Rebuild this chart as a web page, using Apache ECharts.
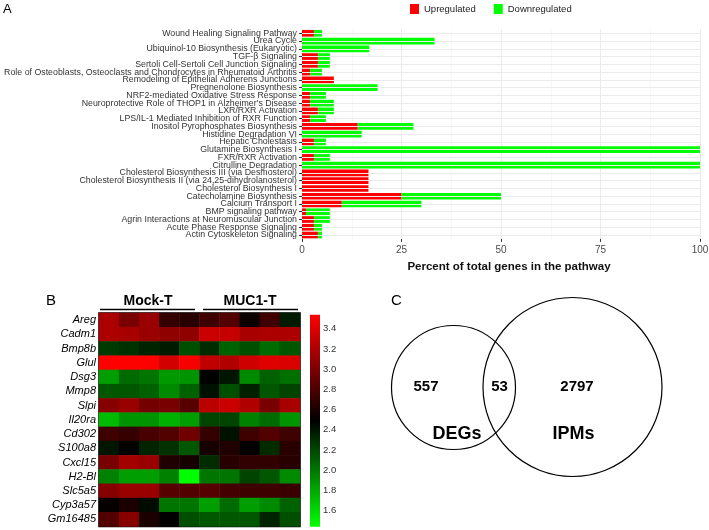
<!DOCTYPE html>
<html>
<head>
<meta charset="utf-8">
<script src="https://cdn.jsdelivr.net/npm/echarts@6/dist/echarts.min.js"></script>
<style>
html,body{margin:0;padding:0;background:#fff;}
#chart{width:709px;height:530px;}
</style>
</head>
<body>
<div id="chart"></div>
<script>
// ---------- Panel A data ----------
const pathways = [
  'Wound Healing Signaling Pathway',
  'Urea Cycle',
  'Ubiquinol-10 Biosynthesis (Eukaryotic)',
  'TGF-β Signaling',
  'Sertoli Cell-Sertoli Cell Junction Signaling',
  'Role of Osteoblasts, Osteoclasts and Chondrocytes in Rheumatoid Arthritis',
  'Remodeling of Epithelial Adherens Junctions',
  'Pregnenolone Biosynthesis',
  'NRF2-mediated Oxidative Stress Response',
  "Neuroprotective Role of THOP1 in Alzheimer's Disease",
  'LXR/RXR Activation',
  'LPS/IL-1 Mediated Inhibition of RXR Function',
  'Inositol Pyrophosphates Biosynthesis',
  'Histidine Degradation VI',
  'Hepatic Cholestasis',
  'Glutamine Biosynthesis I',
  'FXR/RXR Activation',
  'Citrulline Degradation',
  'Cholesterol Biosynthesis III (via Desmosterol)',
  'Cholesterol Biosynthesis II (via 24,25-dihydrolanosterol)',
  'Cholesterol Biosynthesis I',
  'Catecholamine Biosynthesis',
  'Calcium Transport I',
  'BMP signaling pathway',
  'Agrin Interactions at Neuromuscular Junction',
  'Acute Phase Response Signaling',
  'Actin Cytoskeleton Signaling'
];
const upregulated   = [3, 0, 0, 4, 4, 2, 8, 0, 2, 2, 4, 2, 14, 0, 3, 0, 3, 0, 16.7, 16.7, 16.7, 25, 10, 1, 3, 3, 4];
const downregulated = [2, 33.3, 16.9, 3, 3, 3, 0, 19, 4, 6, 4, 4, 14, 15, 3, 100, 4, 100, 0, 0, 0, 25, 20, 6, 4, 2, 1];
const percentTicks = [0, 25, 50, 75, 100];
const seriesNames = ['Upregulated', 'Downregulated'];

// ---------- Panel B data ----------
const genes = ['Areg','Cadm1','Bmp8b','Glul','Dsg3','Mmp8','Slpi','Il20ra','Cd302','S100a8','Cxcl15','H2-Bl','Slc5a5','Cyp3a57','Gm16485'];
const samples = ['Mock-T 1','Mock-T 2','Mock-T 3','Mock-T 4','Mock-T 5','MUC1-T 1','MUC1-T 2','MUC1-T 3','MUC1-T 4','MUC1-T 5'];
const sampleGroups = ['Mock-T', 'MUC1-T'];
const expression = [
  [3.20, 2.99, 3.12, 2.71, 2.66, 2.75, 2.83, 2.54, 2.75, 2.38], // Areg
  [3.20, 3.18, 3.12, 3.08, 3.08, 3.32, 3.30, 3.18, 3.20, 3.20], // Cadm1
  [2.25, 2.29, 2.34, 2.38, 2.17, 2.31, 2.09, 2.17, 2.05, 2.13], // Bmp8b
  [3.54, 3.53, 3.53, 3.36, 3.51, 3.28, 3.22, 3.34, 3.41, 3.39], // Glul
  [1.84, 2.05, 2.01, 1.86, 1.88, 2.48, 2.40, 1.92, 2.09, 2.03], // Dsg3
  [2.13, 2.13, 2.09, 1.92, 2.09, 2.42, 2.17, 2.36, 2.13, 2.21], // Mmp8
  [3.04, 3.12, 2.97, 2.99, 2.85, 3.26, 3.32, 3.22, 2.99, 3.18], // Slpi
  [1.72, 1.88, 1.88, 1.76, 1.84, 2.21, 2.21, 1.96, 2.05, 1.88], // Il20ra
  [2.75, 2.71, 2.79, 2.83, 2.95, 2.71, 2.42, 2.75, 2.83, 2.75], // Cd302
  [2.40, 2.48, 2.34, 2.29, 2.13, 2.58, 2.62, 2.50, 2.31, 2.66], // S100a8
  [2.99, 3.16, 3.12, 2.62, 2.58, 2.31, 2.66, 2.69, 2.69, 2.66], // Cxcl15
  [1.96, 1.84, 1.84, 1.96, 1.45, 2.01, 2.01, 2.21, 2.13, 1.92], // H2-Bl
  [3.04, 3.12, 3.12, 2.85, 2.83, 2.85, 2.77, 2.75, 2.75, 2.73], // Slc5a5
  [2.52, 2.60, 2.44, 2.01, 2.01, 1.84, 2.05, 1.84, 1.92, 2.09], // Cyp3a57
  [2.83, 3.04, 2.60, 2.50, 2.17, 2.13, 2.13, 2.13, 2.34, 2.17]  // Gm16485
];
const colorRange = [1.44, 3.54];
const colorbarTicks = [1.6, 1.8, 2.0, 2.2, 2.4, 2.6, 2.8, 3.0, 3.2, 3.4];

// ---------- Panel C data ----------
const vennSets = ['DEGs', 'IPMs'];
const vennCounts = [557, 53, 2797]; // DEGs only, overlap, IPMs only

// ---------- build ----------
const FONT = 'Liberation Sans, Arial, sans-serif';
const RED = '#ff0000', GREEN = '#00ff00';

const heatData = [];
expression.forEach((row, gi) => row.forEach((v, si) => heatData.push([si, gi, v])));

// Venn layout (in panel-C grid units)
const vennLayout = {
  circles: [{cx: 123.5, cy: 107.5, r: 62}, {cx: 242.5, cy: 107, r: 89.5}],
  countPos: [[96, 107], [169.5, 107], [247, 107]],
  namePos: [[127, 154], [243.5, 154]]
};

const chart = echarts.init(document.getElementById('chart'), null, {renderer: 'canvas'});

const option = {
  animation: false,
  backgroundColor: '#fff',
  textStyle: {fontFamily: FONT},
  legend: {
    data: seriesNames,
    left: 410, top: 4, padding: 0,
    itemWidth: 9, itemHeight: 10, itemGap: 18,
    icon: 'rect',
    textStyle: {fontSize: 9.5, color: '#222', fontFamily: FONT}
  },
  grid: [
    {left: 302, right: 9, top: 29.4, height: 209.5, outerBoundsMode: 'none', containLabel: false},
    {left: 99, top: 313, width: 201, height: 213.5, show: true, borderColor: '#000', borderWidth: 1.5, backgroundColor: 'transparent', outerBoundsMode: 'none', containLabel: false},
    {left: 310, top: 314.7, width: 10, height: 212, outerBoundsMode: 'none', containLabel: false},
    {left: 330, top: 280, width: 379, height: 250, outerBoundsMode: 'none', containLabel: false}
  ],
  xAxis: [
    {
      gridIndex: 0, type: 'value', min: 0, max: 100, interval: 25,
      axisLine: {show: false},
      axisTick: {show: true, length: 3, lineStyle: {color: '#333'}},
      axisLabel: {fontSize: 10, color: '#4d4d4d', margin: 6, customValues: percentTicks},
      splitLine: {show: true, lineStyle: {color: '#ebebeb', width: 1}},
      minorTick: {show: false, splitNumber: 2},
      minorSplitLine: {show: true, lineStyle: {color: '#f2f2f2', width: 0.6}},
      name: 'Percent of total genes in the pathway',
      nameLocation: 'middle', nameGap: 22,
      nameTextStyle: {fontSize: 11.5, fontWeight: 'bold', color: '#111', padding: [0, 0, 0, 16]}
    },
    {gridIndex: 1, type: 'category', data: samples, show: false},
    {gridIndex: 2, type: 'value', min: 0, max: 1, show: false},
    {gridIndex: 3, type: 'value', min: 0, max: 379, show: false}
  ],
  yAxis: [
    {
      gridIndex: 0, type: 'category', data: pathways, inverse: true,
      axisLine: {show: false},
      axisTick: {show: true, length: 3, alignWithLabel: true, lineStyle: {color: '#333'}},
      axisLabel: {fontSize: 8.8, color: '#333', margin: 5, interval: 0},
      splitLine: {show: false}
    },
    {
      gridIndex: 1, type: 'category', data: genes, inverse: true,
      axisLine: {show: false}, axisTick: {show: false},
      axisLabel: {fontSize: 11, fontStyle: 'italic', color: '#000', margin: 3, interval: 0}
    },
    {
      gridIndex: 2, type: 'value', min: colorRange[0], max: colorRange[1], position: 'right',
      axisLine: {show: false},
      axisTick: {show: true, length: 2, customValues: colorbarTicks, lineStyle: {color: '#333'}},
      axisLabel: {customValues: colorbarTicks, formatter: v => v.toFixed(1), fontSize: 9.5, color: '#333', margin: 3},
      splitLine: {show: false}
    },
    {gridIndex: 3, type: 'value', min: 0, max: 250, inverse: true, show: false}
  ],
  visualMap: {
    type: 'continuous', show: false, seriesIndex: 3, dimension: 2,
    min: colorRange[0], max: colorRange[1],
    inRange: {color: [GREEN, '#000000', RED]}
  },
  series: [
    {
      name: seriesNames[0], type: 'bar', stack: 'pct', xAxisIndex: 0, yAxisIndex: 0,
      data: upregulated, itemStyle: {color: RED}, barCategoryGap: '14%', z: 3
    },
    {
      name: seriesNames[1], type: 'bar', stack: 'pct', xAxisIndex: 0, yAxisIndex: 0,
      data: downregulated, itemStyle: {color: GREEN}, barCategoryGap: '14%', z: 3
    },
    {
      type: 'line', xAxisIndex: 0, yAxisIndex: 0, data: [], z: 1, silent: true,
      markLine: {
        silent: true, symbol: 'none', label: {show: false},
        lineStyle: {color: '#ebebeb', width: 1, type: 'solid'},
        data: pathways.map(p => ({yAxis: p}))
      }
    },
    {
      type: 'heatmap', xAxisIndex: 1, yAxisIndex: 1, data: heatData,
      itemStyle: {borderWidth: 0}, emphasis: {disabled: true}
    },
    {
      type: 'custom', xAxisIndex: 2, yAxisIndex: 2, silent: true,
      data: [[0, 1, colorRange[0], colorRange[1]]],
      renderItem: (params, api) => {
        const p1 = api.coord([api.value(0), api.value(3)]);
        const p2 = api.coord([api.value(1), api.value(2)]);
        return {
          type: 'rect',
          shape: {x: p1[0], y: p1[1], width: p2[0] - p1[0], height: p2[1] - p1[1]},
          style: {
            fill: {type: 'linear', x: 0, y: 0, x2: 0, y2: 1,
              colorStops: [{offset: 0, color: RED}, {offset: 0.5, color: '#000'}, {offset: 1, color: GREEN}]}
          }
        };
      }
    },
    {
      type: 'custom', xAxisIndex: 3, yAxisIndex: 3, silent: true,
      data: vennSets.map((s, i) => [i]),
      renderItem: (params, api) => {
        const c = vennLayout.circles[api.value(0)];
        const p = api.coord([c.cx, c.cy]);
        const r = api.size([c.r, 0])[0];
        return {type: 'circle', shape: {cx: p[0], cy: p[1], r: r},
          style: {fill: 'none', stroke: '#000', lineWidth: 1.2}};
      }
    },
    {
      type: 'custom', xAxisIndex: 3, yAxisIndex: 3, silent: true,
      data: vennCounts.map((c, i) => [i]),
      renderItem: (params, api) => {
        const i = api.value(0);
        const p = api.coord(vennLayout.countPos[i]);
        return {type: 'text', x: p[0], y: p[1],
          style: {text: String(vennCounts[i]), fontSize: 15, fontWeight: 'bold', fill: '#000',
            fontFamily: FONT, align: 'center', verticalAlign: 'middle'}};
      }
    },
    {
      type: 'custom', xAxisIndex: 3, yAxisIndex: 3, silent: true,
      data: vennSets.map((s, i) => [i]),
      renderItem: (params, api) => {
        const i = api.value(0);
        const p = api.coord(vennLayout.namePos[i]);
        return {type: 'text', x: p[0], y: p[1],
          style: {text: vennSets[i], fontSize: 18, fontWeight: 'bold', fill: '#000',
            fontFamily: FONT, align: 'center', verticalAlign: 'middle'}};
      }
    }
  ],
  graphic: [
    {type: 'text', left: 3, top: 3, style: {text: 'A', fontSize: 13, fill: '#000', fontFamily: FONT}},
    {type: 'text', left: 46, top: 293, style: {text: 'B', fontSize: 15, fill: '#000', fontFamily: FONT}},
    {type: 'text', left: 391, top: 293, style: {text: 'C', fontSize: 15, fill: '#000', fontFamily: FONT}},
    {type: 'text', x: 148, y: 301.5, style: {text: sampleGroups[0], fontSize: 14, fontWeight: 'bold', fill: '#000', fontFamily: FONT, align: 'center', verticalAlign: 'middle'}},
    {type: 'text', x: 250, y: 301.5, style: {text: sampleGroups[1], fontSize: 14, fontWeight: 'bold', fill: '#000', fontFamily: FONT, align: 'center', verticalAlign: 'middle'}},
    {type: 'line', shape: {x1: 100, y1: 309.5, x2: 195, y2: 309.5}, style: {stroke: '#000', lineWidth: 1.5}},
    {type: 'line', shape: {x1: 203, y1: 309.5, x2: 298, y2: 309.5}, style: {stroke: '#000', lineWidth: 1.5}}
  ]
};

chart.setOption(option);
</script>
</body>
</html>
